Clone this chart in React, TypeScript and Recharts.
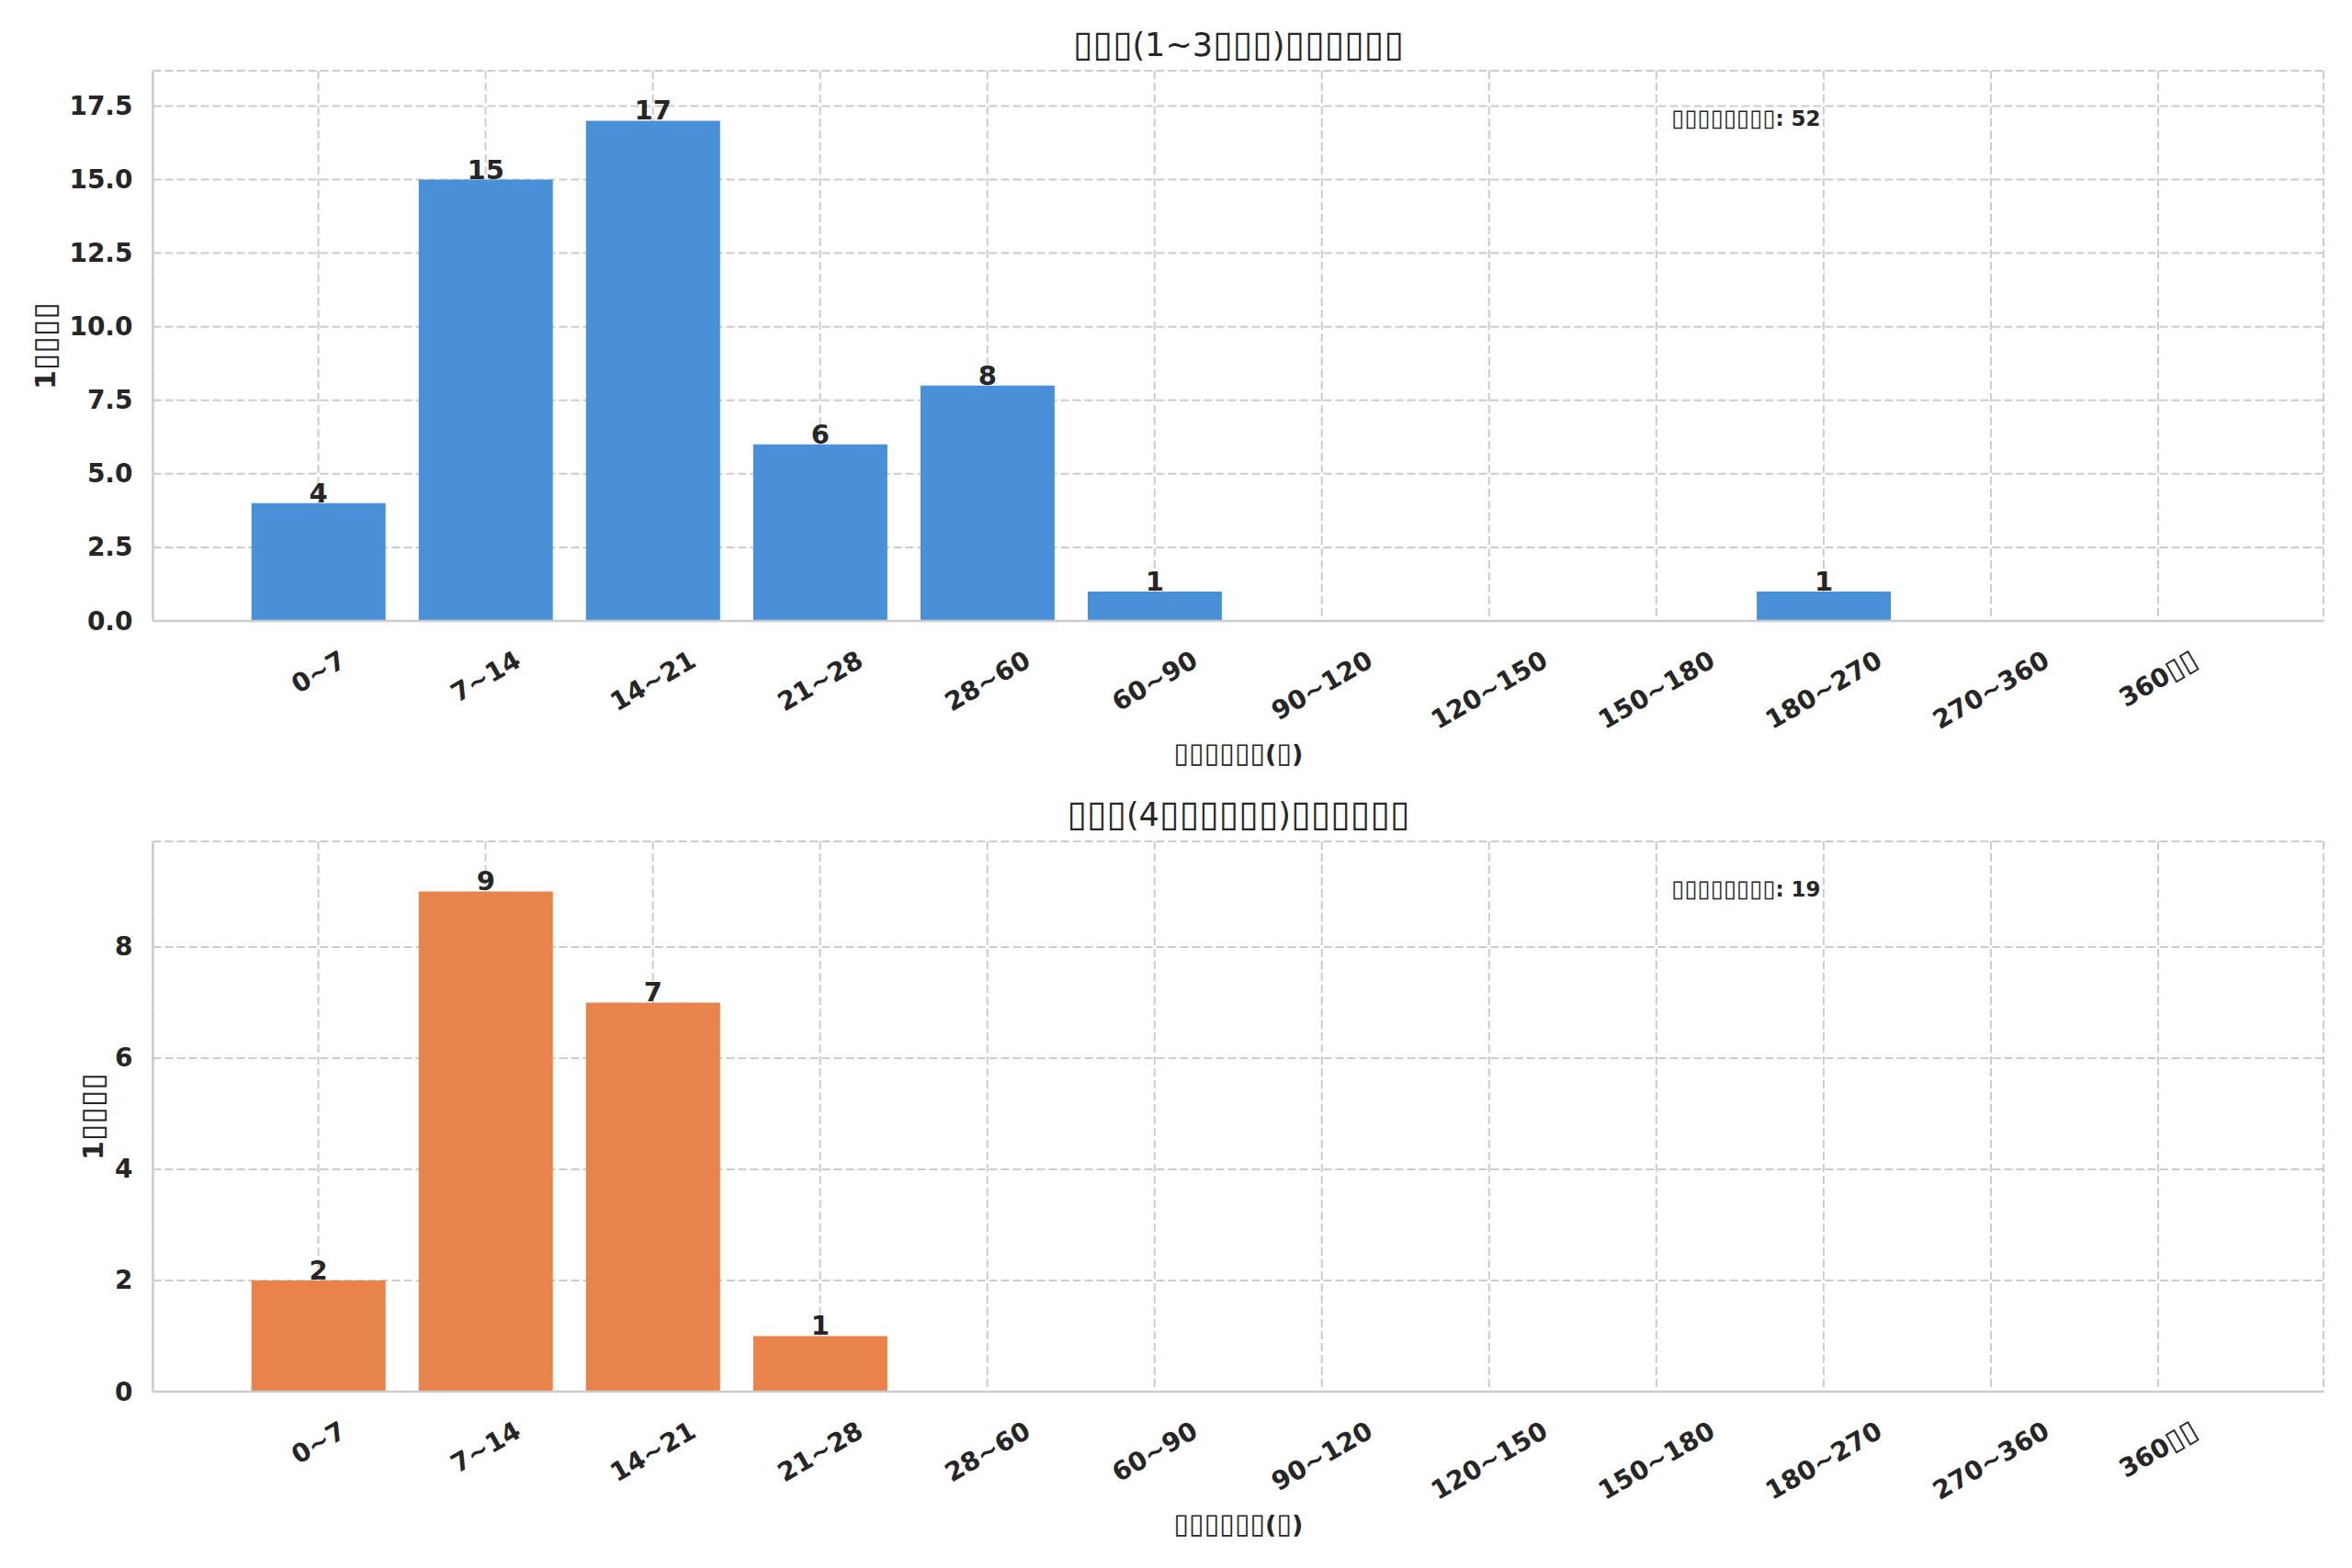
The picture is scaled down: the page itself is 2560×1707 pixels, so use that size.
import React from 'react';
import { BarChart, Bar, XAxis, YAxis, CartesianGrid, LabelList, Label } from 'recharts';

const T = '\u25AF';
const t = (n: number) => T.repeat(n);

const categories = ['0~7', '7~14', '14~21', '21~28', '28~60', '60~90', '90~120', '120~150', '150~180', '180~270', '270~360', '360' + t(2)];
const newCounts = [4, 15, 17, 6, 8, 1, 0, 0, 0, 1, 0, 0];
const repeatCounts = [2, 9, 7, 1, 0, 0, 0, 0, 0, 0, 0, 0];
const newTicks = [0, 2.5, 5, 7.5, 10, 12.5, 15, 17.5];
const repeatTicks = [0, 2, 4, 6, 8];
const titleNew = t(3) + '(1~3' + t(3) + ')' + t(6);
const titleRepeat = t(3) + '(4' + t(6) + ')' + t(6);
const xLabel = t(6) + '(' + t(1) + ')';
const yLabel = '1' + t(4);
const totalLabel = t(8) + ': ';
const totalNew = 52;
const totalRepeat = 19;

const FONT = '"DejaVu Sans", sans-serif';
const TXT = '#262626';
const GRID = '#cccccc';
const PLOT_LEFT = 166.5;
const PLOT_RIGHT = 2529;
const W = 2560;
const TOFU_SCALE = 1.12;
const XLABEL_FS = 27;

function runs(s: string, fs: number) {
  const out: React.ReactNode[] = [];
  let buf = '';
  let isT = false;
  const flush = () => {
    if (buf) {
      out.push(
        <tspan key={out.length} fontWeight={isT ? 400 : undefined} fontSize={isT ? fs * TOFU_SCALE : undefined}>
          {buf}
        </tspan>
      );
    }
    buf = '';
  };
  for (const ch of s) {
    const ct = ch === T;
    if (ct !== isT) {
      flush();
      isT = ct;
    }
    buf += ch;
  }
  flush();
  return out;
}

function htmlRuns(s: string) {
  const out: React.ReactNode[] = [];
  let buf = '';
  let isT = false;
  const flush = () => {
    if (buf) {
      out.push(
        <span key={out.length} style={isT ? { fontWeight: 400, fontSize: `${TOFU_SCALE}em`, lineHeight: 0 } : undefined}>
          {buf}
        </span>
      );
    }
    buf = '';
  };
  for (const ch of s) {
    const ct = ch === T;
    if (ct !== isT) {
      flush();
      isT = ct;
    }
    buf += ch;
  }
  flush();
  return out;
}

const charW = (ch: string) => {
  if (ch === T) return 0.6;
  if (ch === '~') return 0.838;
  return 0.696;
};

const XTick = (props: any) => {
  const { x, y, payload } = props;
  const label = String(payload.value);
  const fs = 28;
  let w = 0;
  for (const ch of label) w += charW(ch) * fs;
  const h = 32;
  const bboxH = w * 0.5 + h * 0.866;
  const cy = y + 26 + bboxH / 2;
  return (
    <text
      x={0}
      y={fs * 0.35}
      transform={`translate(${x},${cy}) rotate(-30)`}
      textAnchor="middle"
      fontFamily={FONT}
      fontWeight={700}
      fontSize={fs}
      fill={TXT}
    >
      {runs(label, fs)}
    </text>
  );
};

const makeYTick = (fmt: (v: number) => string) => (props: any) => {
  const { y, payload } = props;
  return (
    <text
      x={PLOT_LEFT - 22}
      y={y}
      textAnchor="end"
      dominantBaseline="central"
      fontFamily={FONT}
      fontWeight={700}
      fontSize={28}
      fill={TXT}
    >
      {fmt(payload.value)}
    </text>
  );
};

const ValueLabel = (props: any) => {
  const { x, y, width, value } = props;
  if (!value) return null;
  return (
    <text
      x={x + width / 2}
      y={y - 1}
      textAnchor="middle"
      fontFamily={FONT}
      fontWeight={700}
      fontSize={29}
      fill={TXT}
    >
      {value}
    </text>
  );
};

type PanelProps = {
  values: number[];
  color: string;
  ticks: number[];
  domainMax: number;
  fmt: (v: number) => string;
  height: number;
  top: number;
  xAxisHeight: number;
  yLabelX: number;
};

function Panel({ values, color, ticks, domainMax, fmt, height, top, xAxisHeight, yLabelX }: PanelProps) {
  const data = categories.map((c, i) => ({ cat: c, v: values[i] }));
  return (
    <BarChart
      width={W}
      height={height}
      data={data}
      margin={{ top, right: W - PLOT_RIGHT, bottom: 0, left: 0 }}
      barCategoryGap="10%"
    >
      <CartesianGrid stroke={GRID} strokeDasharray="9 4" strokeWidth={2} />
      <XAxis
        dataKey="cat"
        interval={0}
        height={xAxisHeight}
        padding={{ left: 89, right: 89 }}
        tickLine={false}
        tickSize={0}
        tickMargin={0}
        axisLine={{ stroke: GRID, strokeWidth: 2.5 }}
        tick={<XTick />}
      >
        <Label
          content={(p: any) => {
            const vb = p.viewBox;
            return (
              <text
                x={vb.x + vb.width / 2}
                y={vb.y + 145 + XLABEL_FS * 0.35}
                textAnchor="middle"
                fontFamily={FONT}
                fontWeight={700}
                fontSize={XLABEL_FS}
                fill={TXT}
              >
                {runs(xLabel, XLABEL_FS)}
              </text>
            );
          }}
        />
      </XAxis>
      <XAxis
        xAxisId="top"
        dataKey="cat"
        orientation="top"
        height={0}
        tick={false}
        tickLine={false}
        axisLine={{ stroke: GRID, strokeWidth: 2.5 }}
      />
      <YAxis
        width={PLOT_LEFT}
        domain={[0, domainMax]}
        ticks={ticks}
        interval={0}
        allowDataOverflow
        tickLine={false}
        tickSize={0}
        axisLine={{ stroke: GRID, strokeWidth: 2.5 }}
        tick={makeYTick(fmt)}
      >
        <Label
          content={(p: any) => {
            const vb = p.viewBox;
            const cy = vb.y + vb.height / 2;
            return (
              <text
                x={0}
                y={30 * 0.35}
                transform={`translate(${yLabelX},${cy}) rotate(-90)`}
                textAnchor="middle"
                fontFamily={FONT}
                fontWeight={700}
                fontSize={30}
                fill={TXT}
              >
                {runs(yLabel, 30)}
              </text>
            );
          }}
        />
      </YAxis>
      <YAxis
        yAxisId="r"
        orientation="right"
        width={0}
        domain={[0, domainMax]}
        tick={false}
        tickLine={false}
        axisLine={{ stroke: GRID, strokeWidth: 2.5 }}
      />
      <Bar dataKey="v" fill={color} isAnimationActive={false}>
        <LabelList dataKey="v" content={<ValueLabel />} />
      </Bar>
    </BarChart>
  );
}

const titleStyle: React.CSSProperties = {
  position: 'absolute',
  left: (PLOT_LEFT + PLOT_RIGHT) / 2,
  transform: 'translate(-50%, -50%)',
  fontFamily: FONT,
  fontSize: 35,
  color: TXT,
  whiteSpace: 'nowrap',
  lineHeight: 1,
};

const noteStyle: React.CSSProperties = {
  position: 'absolute',
  left: 1819,
  transform: 'translateY(-50%)',
  fontFamily: FONT,
  fontSize: 23,
  fontWeight: 700,
  color: TXT,
  whiteSpace: 'nowrap',
  lineHeight: 1,
};

export default function App() {
  return (
    <div style={{ position: 'absolute', left: 0, top: 0, width: W, height: 1707, background: '#ffffff', overflow: 'hidden' }}>
      <div style={{ position: 'absolute', left: 0, top: 0 }}>
        <Panel
          values={newCounts}
          color="#4A90D9"
          ticks={newTicks}
          domainMax={18.7}
          fmt={(v) => v.toFixed(1)}
          height={853}
          top={77}
          xAxisHeight={177}
          yLabelX={49}
        />
      </div>
      <div style={{ position: 'absolute', left: 0, top: 853 }}>
        <Panel
          values={repeatCounts}
          color="#E8844B"
          ticks={repeatTicks}
          domainMax={9.9}
          fmt={(v) => String(v)}
          height={854}
          top={63}
          xAxisHeight={192}
          yLabelX={101}
        />
      </div>
      <div style={{ ...titleStyle, top: 49 }}>{htmlRuns(titleNew)}</div>
      <div style={{ ...titleStyle, top: 887 }}>{htmlRuns(titleRepeat)}</div>
      <div style={{ ...noteStyle, top: 129 }}>
        {htmlRuns(totalLabel)}
        {totalNew}
      </div>
      <div style={{ ...noteStyle, top: 968 }}>
        {htmlRuns(totalLabel)}
        {totalRepeat}
      </div>
    </div>
  );
}
